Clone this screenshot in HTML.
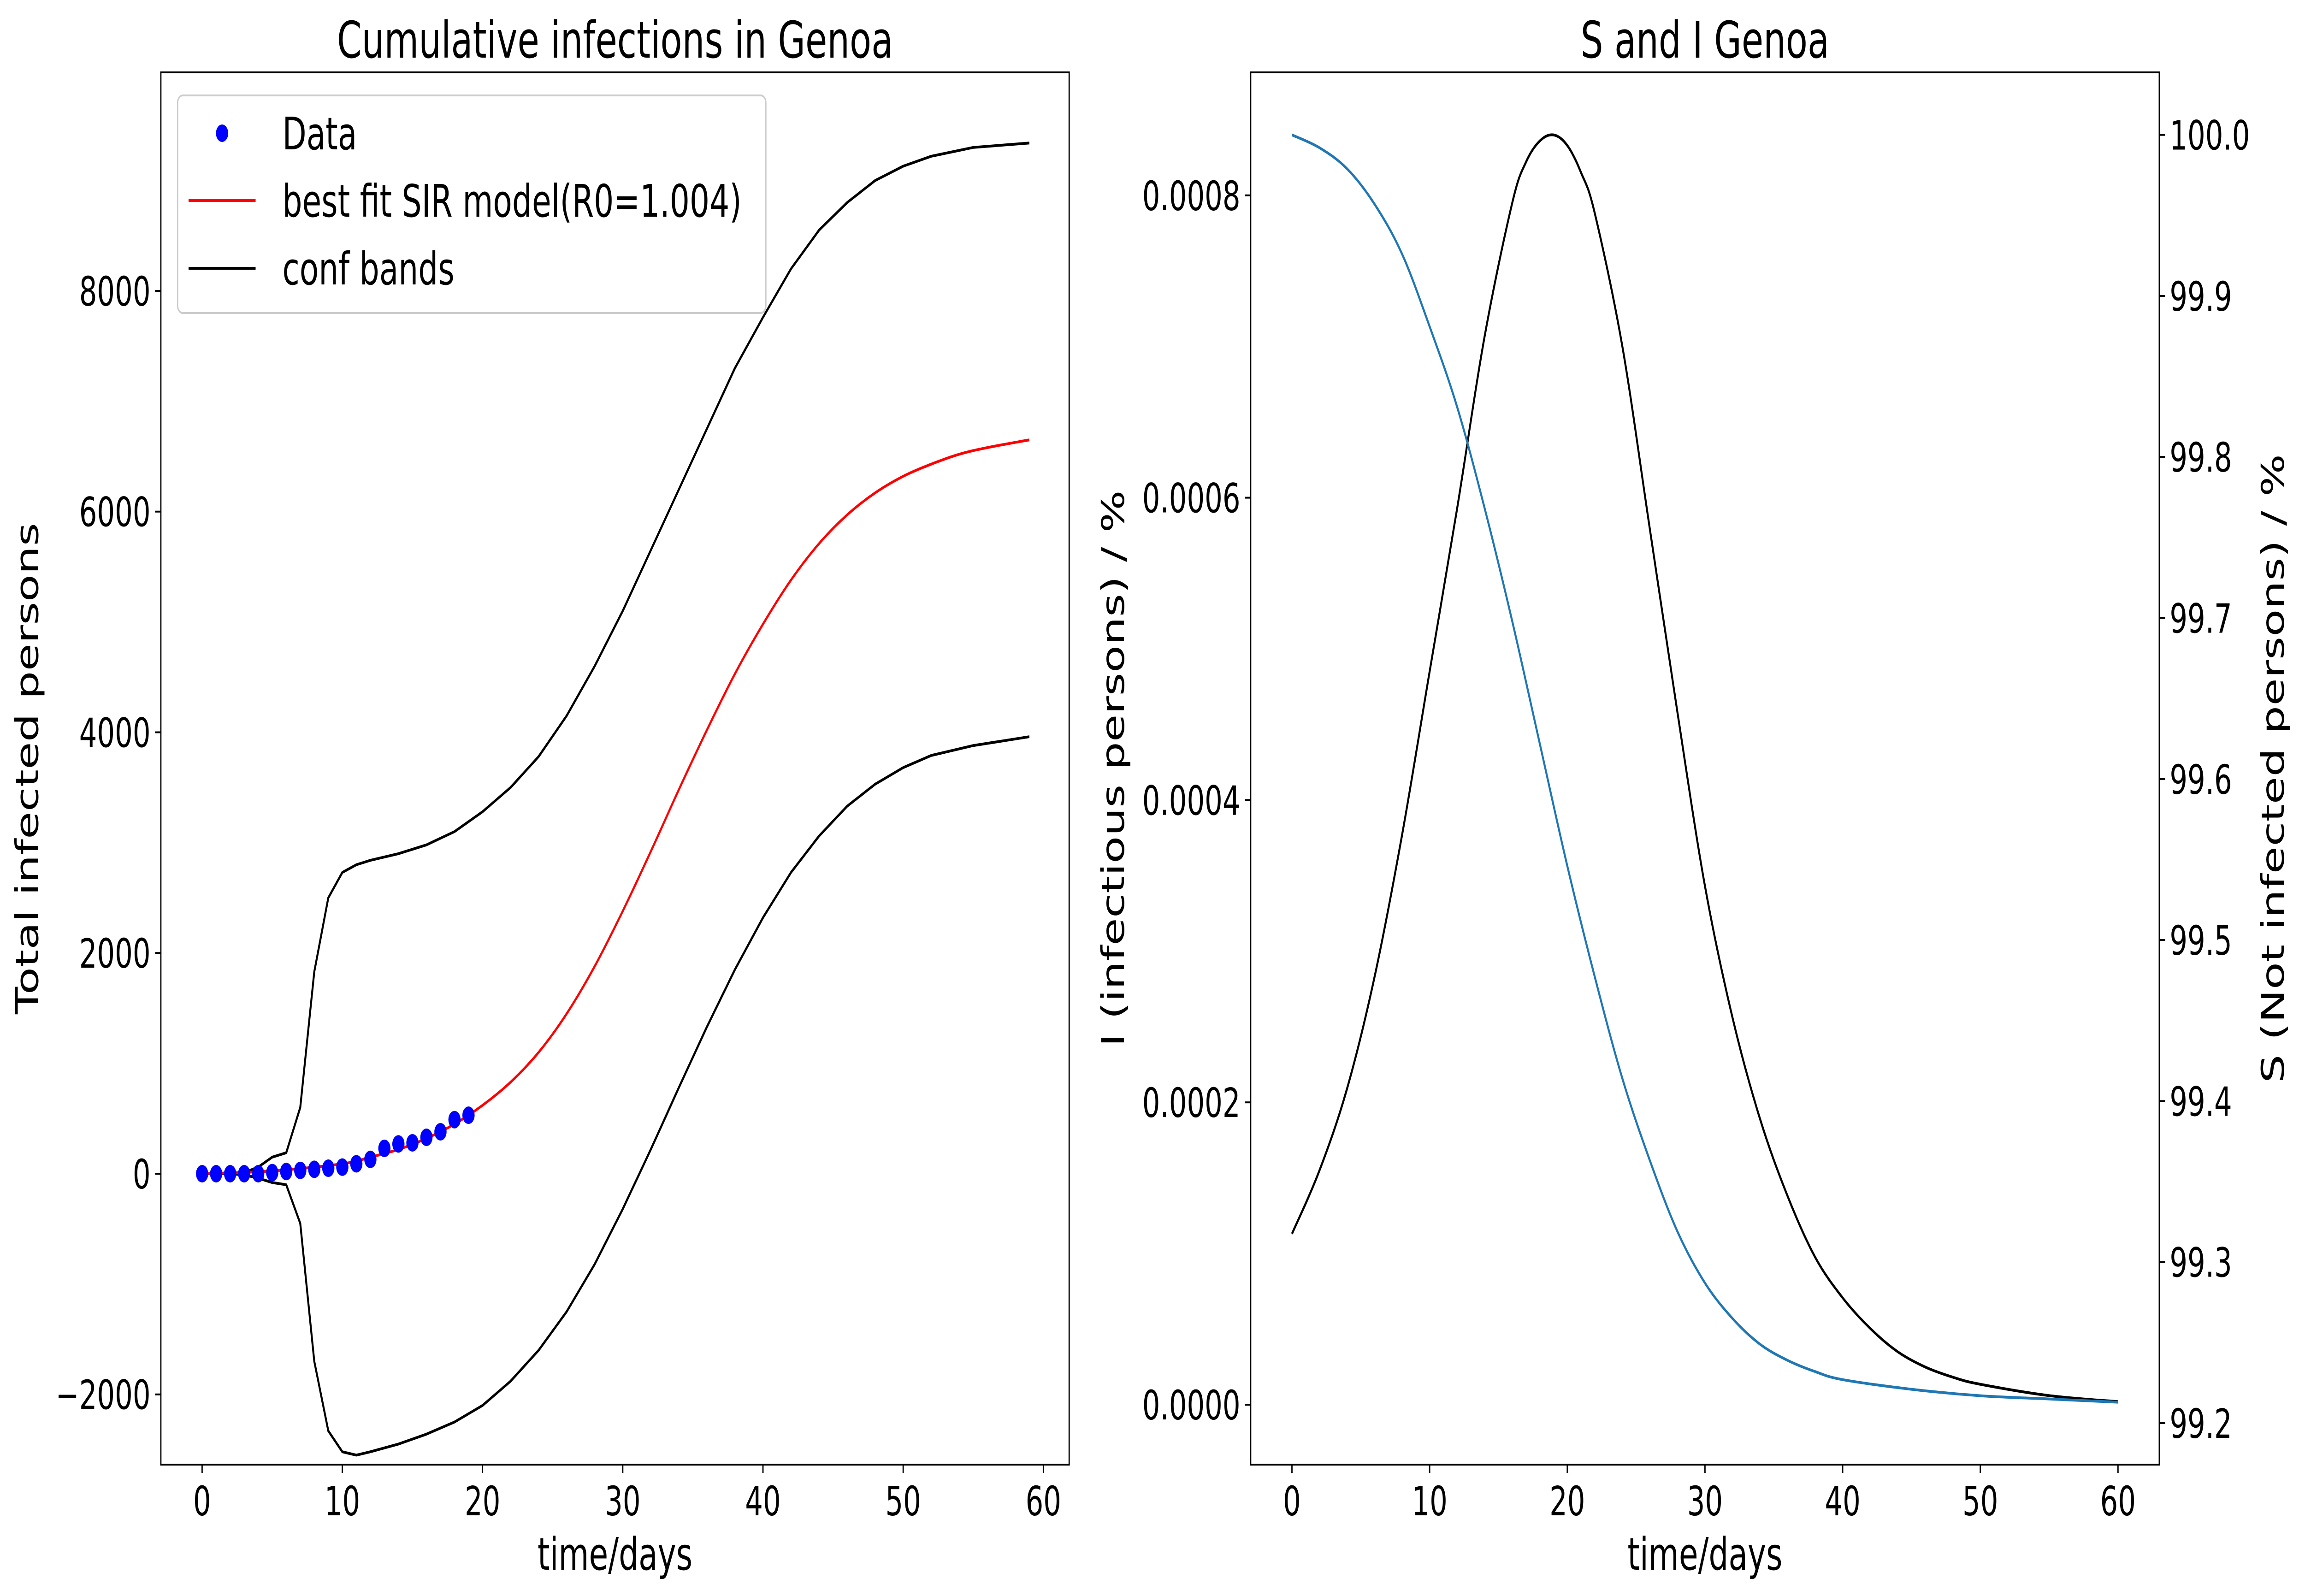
<!DOCTYPE html>
<html><head><meta charset="utf-8"><style>
html,body{margin:0;padding:0;background:#fff;width:100%;height:100%;overflow:hidden;}
svg{display:block;width:100vw;height:100vh;font-family:"DejaVu Sans","Liberation Sans",sans-serif;}
</style></head><body>
<svg id="fig" viewBox="0 0 7151 3462" preserveAspectRatio="none" xmlns="http://www.w3.org/2000/svg">
<rect width="7151" height="3462" fill="#fff"/>
</svg>
<script>
// Left chart data
const dataDays = [0,1,2,3,4,5,6,7,8,9,10,11,12,13,14,15,16,17,18,19];
const dataCases = [0,0,0,0,0,10,20,30,40,50,60,90,130,230,270,280,330,380,490,530];
const fitDays = [0,5,10,12,14,16,18,20,22,24,26,28,30,32,34,36,38,40,42,44,46,48,50,52,54,56,59];
const fitCases = [0,25,90,150,220,320,450,620,830,1100,1450,1880,2380,2920,3480,4020,4530,4980,5380,5710,5970,6170,6320,6430,6520,6580,6650];
const upperDays = [0,1,2,3,4,5,6,7,8,9,10,11,12,14,16,18,20,22,24,26,28,30,32,34,36,38,40,42,44,46,48,50,52,55,59];
const upperCases = [0,0,0,10,60,150,190,600,1830,2500,2730,2800,2840,2900,2980,3100,3280,3500,3780,4150,4600,5100,5650,6200,6750,7300,7760,8200,8550,8800,9000,9130,9220,9300,9340];
const lowerDays = [0,1,2,3,4,5,6,7,8,9,10,11,12,14,16,18,20,22,24,26,28,30,32,34,36,38,40,42,44,46,48,50,52,55,59];
const lowerCases = [0,0,0,-10,-40,-80,-100,-450,-1700,-2330,-2520,-2550,-2520,-2450,-2360,-2250,-2100,-1880,-1600,-1250,-820,-320,220,780,1330,1850,2320,2730,3060,3330,3530,3680,3790,3880,3960];
const leftXTicks = [0,10,20,30,40,50,60];
const leftYTicks = [-2000,0,2000,4000,6000,8000];
const leftYTickLabels = ["\u22122000","0","2000","4000","6000","8000"];
// Right chart data
const siDays = [0,2,4,6,8,10,12,14,16,17,18,19,20,21,22,24,26,28,30,32,34,36,38,40,42,44,46,48,50,55,60];
const infectious = [0.000113,0.000155,0.000209,0.000283,0.000377,0.000485,0.000593,0.000707,0.000795,0.000822,0.000836,0.00084,0.000833,0.000815,0.000788,0.0007,0.000579,0.000458,0.000343,0.000256,0.000189,0.000138,0.0000976,0.0000707,0.0000505,0.000035,0.0000249,0.0000182,0.0000135,0.000006,0.000002];
const sDays = [0,2,4,6,8,10,12,14,16,18,20,22,24,26,28,30,32,34,36,38,40,45,50,55,60];
const susceptible = [100.0,99.992,99.979,99.957,99.926,99.881,99.831,99.768,99.698,99.622,99.546,99.477,99.414,99.363,99.319,99.287,99.265,99.249,99.239,99.232,99.227,99.221,99.217,99.215,99.213];
const rightXTicks = [0,10,20,30,40,50,60];
const rightIYTicks = [0,0.0002,0.0004,0.0006,0.0008];
const rightIYTickLabels = ["0.0000","0.0002","0.0004","0.0006","0.0008"];
const rightSYTicks = [99.2,99.3,99.4,99.5,99.6,99.7,99.8,99.9,100.0];
const rightSYTickLabels = ["99.2","99.3","99.4","99.5","99.6","99.7","99.8","99.9","100.0"];

const NS = "http://www.w3.org/2000/svg";
const svg = document.getElementById('fig');
function mk(tag, attrs, parent, text){
  const e = document.createElementNS(NS, tag);
  for (const k in attrs) e.setAttribute(k, attrs[k]);
  if (text !== undefined) e.textContent = text;
  (parent || svg).appendChild(e);
  return e;
}
const TICK = 87, LAB = 97, TITLE = 110, SW = 6;

const L = {x0:499, x1:3317, y0:157, y1:3177};
const lx = d => 627 + d * 43.5;
const ly = v => 2546 - v * (478.75/2000);
const R = {x0:3880, x1:6699, y0:157, y1:3177};
const rx = d => 3880 + (d + 3) * (2819/66);
const riy = v => 3047 - v * (655.8/0.0002);
const rsy = v => 3087 - (v - 99.2) * (349.3/0.1);

function smoothPath(xs, ys){
  const p = xs.map((x,i)=>[x,ys[i]]);
  let d = `M${p[0][0]},${p[0][1]}`;
  for (let i=0;i<p.length-1;i++){
    const p0=p[Math.max(0,i-1)], p1=p[i], p2=p[i+1], p3=p[Math.min(p.length-1,i+2)];
    const c1x=p1[0]+(p2[0]-p0[0])/6, c1y=p1[1]+(p2[1]-p0[1])/6;
    const c2x=p2[0]-(p3[0]-p1[0])/6, c2y=p2[1]-(p3[1]-p1[1])/6;
    d += ` C${c1x},${c1y} ${c2x},${c2y} ${p2[0]},${p2[1]}`;
  }
  return d;
}
function polyPath(xs, ys){
  return xs.map((x,i)=>(i?'L':'M')+x+','+ys[i]).join(' ');
}

// ---- Left chart ----
const gL = mk('g', {});


const clipL = mk('clipPath', {id:'clipL'}, gL);
mk('rect', {x:L.x0, y:L.y0, width:L.x1-L.x0, height:L.y1-L.y0}, clipL);

const up = mk('path', {d: polyPath(upperDays.map(lx), upperCases.map(ly)), fill:'none', stroke:'#000', 'stroke-width':SW, 'stroke-linejoin':'round', 'clip-path':'url(#clipL)'}, gL);


const lo = mk('path', {d: polyPath(lowerDays.map(lx), lowerCases.map(ly)), fill:'none', stroke:'#000', 'stroke-width':SW, 'stroke-linejoin':'round', 'clip-path':'url(#clipL)'}, gL);


const fit = mk('path', {d: smoothPath(fitDays.map(lx), fitCases.map(ly)), fill:'none', stroke:'#ff0000', 'stroke-width':SW, 'clip-path':'url(#clipL)'}, gL);


dataDays.forEach((d,i)=>{
  const c = mk('circle', {cx: lx(d), cy: ly(dataCases[i]), r: 19, fill:'#0000ff'}, gL);
  
  
});
const frameL = mk('rect', {x:L.x0, y:L.y0, width:L.x1-L.x0, height:L.y1-L.y0, fill:'none', stroke:'#000', 'stroke-width':4}, gL);


leftXTicks.forEach(t=>{
  mk('line', {x1:lx(t), x2:lx(t), y1:L.y1, y2:L.y1+18, stroke:'#000', 'stroke-width':4}, gL);
  const tl = mk('text', {x:lx(t), y:L.y1+110, 'font-size':TICK, 'text-anchor':'middle'}, gL, String(t));
  
  
});
leftYTicks.forEach((t,i)=>{
  mk('line', {x1:L.x0-18, x2:L.x0, y1:ly(t), y2:ly(t), stroke:'#000', 'stroke-width':4}, gL);
  const tl = mk('text', {x:L.x0-32, y:ly(t)+32, 'font-size':TICK, 'text-anchor':'end'}, gL, leftYTickLabels[i]);
  
  
});
const tL = mk('text', {x:(L.x0+L.x1)/2, y:125, 'font-size':TITLE, 'text-anchor':'middle'}, gL, 'Cumulative infections in Genoa');


const xlL = mk('text', {x:(L.x0+L.x1)/2, y:3405, 'font-size':LAB, 'text-anchor':'middle'}, gL, 'time/days');


const ylL = mk('text', {x:0, y:0, 'font-size':LAB, 'text-anchor':'middle', transform:`translate(118,1667) rotate(-90)`}, gL, 'Total infected persons');



const lg = mk('g', {}, gL);


mk('rect', {x:551, y:207, width:1825, height:472, rx:16, fill:'#fff', 'fill-opacity':0.8, stroke:'#cccccc', 'stroke-width':4}, lg);
const e1 = mk('circle', {cx:689, cy:289, r:19, fill:'#0000ff'}, lg);


const t1 = mk('text', {x:876, y:324, 'font-size':LAB}, lg, 'Data');


mk('line', {x1:585, x2:793, y1:435, y2:435, stroke:'#ff0000', 'stroke-width':SW}, lg);
const t2 = mk('text', {x:876, y:470, 'font-size':LAB}, lg, 'best fit SIR model(R0=1.004)');


mk('line', {x1:585, x2:793, y1:582, y2:582, stroke:'#000', 'stroke-width':SW}, lg);
const t3 = mk('text', {x:876, y:617, 'font-size':LAB}, lg, 'conf bands');



// ---- Right chart ----
const gR = mk('g', {});


const iLine = mk('path', {d: smoothPath(siDays.map(rx), infectious.map(riy)), fill:'none', stroke:'#000', 'stroke-width':SW}, gR);


const sLine = mk('path', {d: smoothPath(sDays.map(rx), susceptible.map(rsy)), fill:'none', stroke:'#1f77b4', 'stroke-width':SW}, gR);


const frameR = mk('rect', {x:R.x0, y:R.y0, width:R.x1-R.x0, height:R.y1-R.y0, fill:'none', stroke:'#000', 'stroke-width':4}, gR);


rightXTicks.forEach(t=>{
  mk('line', {x1:rx(t), x2:rx(t), y1:R.y1, y2:R.y1+18, stroke:'#000', 'stroke-width':4}, gR);
  const tl = mk('text', {x:rx(t), y:R.y1+110, 'font-size':TICK, 'text-anchor':'middle'}, gR, String(t));
  
  
});
rightIYTicks.forEach((t,i)=>{
  mk('line', {x1:R.x0-18, x2:R.x0, y1:riy(t), y2:riy(t), stroke:'#000', 'stroke-width':4}, gR);
  const tl = mk('text', {x:R.x0-32, y:riy(t)+32, 'font-size':TICK, 'text-anchor':'end'}, gR, rightIYTickLabels[i]);
  
  
});
rightSYTicks.forEach((t,i)=>{
  mk('line', {x1:R.x1, x2:R.x1+18, y1:rsy(t), y2:rsy(t), stroke:'#000', 'stroke-width':4}, gR);
  const tl = mk('text', {x:R.x1+32, y:rsy(t)+32, 'font-size':TICK, 'text-anchor':'start'}, gR, rightSYTickLabels[i]);
  
  
});
const tR = mk('text', {x:(R.x0+R.x1)/2, y:125, 'font-size':TITLE, 'text-anchor':'middle'}, gR, 'S and I Genoa');


const xlR = mk('text', {x:(R.x0+R.x1)/2, y:3405, 'font-size':LAB, 'text-anchor':'middle'}, gR, 'time/days');


const ylR1 = mk('text', {x:0, y:0, 'font-size':LAB, 'text-anchor':'middle', transform:`translate(3487,1667) rotate(-90)`}, gR, 'I (infectious persons) / %');


const ylR2 = mk('text', {x:0, y:0, 'font-size':LAB, 'text-anchor':'middle', transform:`translate(7085,1667) rotate(-90)`}, gR, 'S (Not infected persons) / %');


</script>
</body></html>
